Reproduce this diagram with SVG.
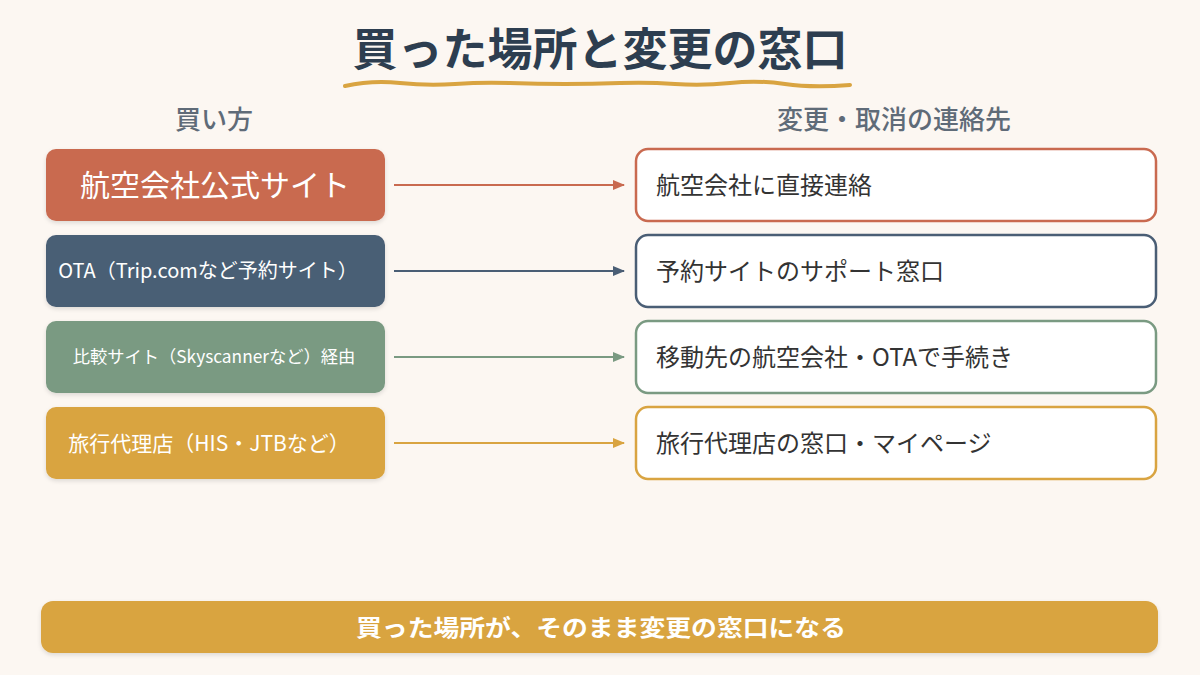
<svg xmlns="http://www.w3.org/2000/svg" width="1200" height="675" viewBox="0 0 1200 675">
<defs>
<filter id="sh" x="-10%" y="-20%" width="120%" height="150%">
<feDropShadow dx="0" dy="2" stdDeviation="2" flood-color="#000" flood-opacity="0.12"/>
</filter>
<marker id="a1" markerWidth="12" markerHeight="10" refX="11" refY="5" orient="auto" markerUnits="userSpaceOnUse"><path d="M0,0 L12,5 L0,10 Z" fill="#C96A50"/></marker>
<marker id="a2" markerWidth="12" markerHeight="10" refX="11" refY="5" orient="auto" markerUnits="userSpaceOnUse"><path d="M0,0 L12,5 L0,10 Z" fill="#4A5E75"/></marker>
<marker id="a3" markerWidth="12" markerHeight="10" refX="11" refY="5" orient="auto" markerUnits="userSpaceOnUse"><path d="M0,0 L12,5 L0,10 Z" fill="#7A9A82"/></marker>
<marker id="a4" markerWidth="12" markerHeight="10" refX="11" refY="5" orient="auto" markerUnits="userSpaceOnUse"><path d="M0,0 L12,5 L0,10 Z" fill="#D9A441"/></marker>
</defs>
<style>
text{font-family:"Noto Sans CJK JP","Noto Sans",sans-serif}
.title{font-size:45px;font-weight:700;fill:#2D3E50}
.hdr{font-size:26px;font-weight:500;fill:#5F6B78}
.lt{fill:#fff;font-weight:400}
.rt{font-size:24px;fill:#333;font-weight:400}
.rb{fill:#fff;stroke-width:2.5}
.conn line{stroke-width:2}
</style>
<rect width="1200" height="675" fill="#FCF7F2"/>
<g id="title">
<text class="title" x="600" y="66" text-anchor="middle">買った場所と変更の窓口</text>
<path d="M345,86 Q372,80 400,83 T455,84 T510,83 T565,84 T620,83 T675,84 T730,83 T785,84 T850,85" fill="none" stroke="#D9A441" stroke-width="4" stroke-linecap="round"/>
</g>
<g id="headers">
<text class="hdr" x="214" y="129" text-anchor="middle">買い方</text>
<text class="hdr" x="894" y="129" text-anchor="middle">変更・取消の連絡先</text>
</g>
<g id="n1"><rect x="46" y="149" width="339" height="72" rx="10" fill="#C96A50" filter="url(#sh)"/><text class="lt" x="215" y="196" font-size="30" text-anchor="middle">航空会社公式サイト</text></g>
<g id="n2"><rect x="46" y="235" width="339" height="72" rx="10" fill="#4A5E75" filter="url(#sh)"/><text class="lt" x="208" y="278" font-size="20" text-anchor="middle">OTA（Trip.comなど予約サイト）</text></g>
<g id="n3"><rect x="46" y="321" width="339" height="72" rx="10" fill="#7A9A82" filter="url(#sh)"/><text class="lt" x="214" y="363" font-size="17.3" text-anchor="middle">比較サイト（Skyscannerなど）経由</text></g>
<g id="n4"><rect x="46" y="407" width="339" height="72" rx="10" fill="#D9A441" filter="url(#sh)"/><text class="lt" x="209" y="451" font-size="21" text-anchor="middle">旅行代理店（HIS・JTBなど）</text></g>
<g id="m1"><rect class="rb" x="636" y="149" width="520" height="72" rx="12" stroke="#C96A50"/><text class="rt" x="656" y="194">航空会社に直接連絡</text></g>
<g id="m2"><rect class="rb" x="636" y="235" width="520" height="72" rx="12" stroke="#4A5E75"/><text class="rt" x="656" y="280">予約サイトのサポート窓口</text></g>
<g id="m3"><rect class="rb" x="636" y="321" width="520" height="72" rx="12" stroke="#7A9A82"/><text class="rt" x="656" y="366">移動先の航空会社・OTAで手続き</text></g>
<g id="m4"><rect class="rb" x="636" y="407" width="520" height="72" rx="12" stroke="#D9A441"/><text class="rt" x="656" y="452">旅行代理店の窓口・マイページ</text></g>
<g class="conn" id="connectors">
<line x1="394" y1="185" x2="624" y2="185" stroke="#C96A50" marker-end="url(#a1)"/>
<line x1="394" y1="271" x2="624" y2="271" stroke="#4A5E75" marker-end="url(#a2)"/>
<line x1="394" y1="357" x2="624" y2="357" stroke="#7A9A82" marker-end="url(#a3)"/>
<line x1="394" y1="443" x2="624" y2="443" stroke="#D9A441" marker-end="url(#a4)"/>
</g>
<g id="footer">
<rect x="41" y="601" width="1117" height="52" rx="12" fill="#D9A441" filter="url(#sh)"/>
<text x="356" y="636" font-size="23" font-weight="700" fill="#fff" textLength="490" lengthAdjust="spacingAndGlyphs">買った場所が、そのまま変更の窓口になる</text>
</g>
</svg>
